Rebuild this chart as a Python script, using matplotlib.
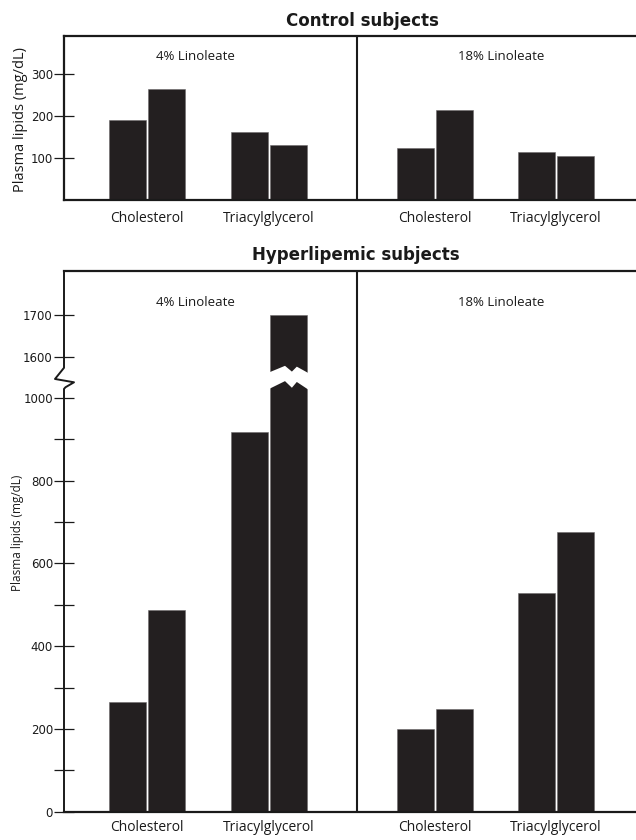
import matplotlib
matplotlib.use('Agg')
import matplotlib.pyplot as plt

# values (mg/dL), two bars per lipid
diets = ['4% Linoleate', '18% Linoleate']
lipids = ['Cholesterol', 'Triacylglycerol']

control_4 = [[190, 264], [161, 130]]
control_18 = [[124, 214], [115, 104]]
hyper_4 = [[266, 488], [917, 1700]]
hyper_18 = [[199, 248], [528, 676]]

control_ticks = [100, 200, 300]
hyper_ticks = [0, 200, 400, 600, 800, 1000, 1600, 1700]
hyper_minor = [100, 300, 500, 700, 900]

# broken axis: everything above the break is shifted down by 500
BREAK_AT = 1050
BREAK_SHIFT = 500


def fwd(v):
    return v if v <= BREAK_AT else v - BREAK_SHIFT


BAR = '#231f20'
INK = '#1a1a1a'
LABEL_FONT = ['Open Sans', 'DejaVu Sans']

W, H = 636, 840
fig = plt.figure(figsize=(W / 100, H / 100), dpi=100)

# layout in pixels: axes run past the right edge, like the cropped original
AX_LEFT, AX_RIGHT = 64, 650
PANEL_W = 293
group_centres = [[83, 204.5], [78, 199]]
bar_w = 37
bar_off = 19.5


def px_axes(top, bottom):
    return fig.add_axes([AX_LEFT / W, 1 - bottom / H,
                         (AX_RIGHT - AX_LEFT) / W, (bottom - top) / H])


def draw_panel(ax, panels, t):
    xt, xl = [], []
    for p, data in enumerate(panels):
        for g, pair in enumerate(data):
            c = p * PANEL_W + group_centres[p][g]
            for k, v in enumerate(pair):
                ax.bar(c + (k - 0.5) * 2 * bar_off, t(v), width=bar_w,
                       color=BAR, edgecolor='#6d6a6b', linewidth=0.4, zorder=2)
            xt.append(c)
            xl.append(lipids[g])
    ax.set_xlim(0, AX_RIGHT - AX_LEFT)
    ax.axvline(PANEL_W, color=INK, lw=1.5, zorder=3)
    ax.set_xticks(xt, xl)
    for s in ['top', 'bottom', 'left']:
        ax.spines[s].set_linewidth(1.6)
        ax.spines[s].set_color(INK)
    ax.tick_params(axis='x', length=0)
    ax.tick_params(axis='y', which='both', direction='inout', length=14,
                   width=0.9, labelsize=8.5, pad=1, colors=INK)
    for lab in ax.get_xticklabels():
        lab.set_family(LABEL_FONT)
        lab.set_fontsize(10)
        lab.set_color(INK)


# ---- Control subjects ----
ax1 = px_axes(36, 200)
draw_panel(ax1, [control_4, control_18], lambda v: v)
ax1.set_ylim(0, 390)
ax1.set_yticks(control_ticks)
ax1.tick_params(axis='x', pad=8)
for x, d in zip([131, 437], diets):
    ax1.text(x, 0.878, d, transform=ax1.get_xaxis_transform(), ha='center',
             va='center', fontsize=9.5, family=LABEL_FONT, color=INK)

# ---- Hyperlipemic subjects ----
ax2 = px_axes(271, 811.7)
draw_panel(ax2, [hyper_4, hyper_18], fwd)
ax2.set_ylim(0, 1307)
ax2.set_yticks([fwd(v) for v in hyper_ticks], [str(v) for v in hyper_ticks])
ax2.set_yticks(hyper_minor, minor=True)
ax2.tick_params(axis='x', pad=6)
for x, d in zip([131, 437], diets):
    ax2.text(x, 0.941, d, transform=ax2.get_xaxis_transform(), ha='center',
             va='center', fontsize=9.5, family=LABEL_FONT, color=INK)

# zigzag gap through the tall bar (peaks pointing up)
c = group_centres[0][1] + bar_off
bx = [c - bar_w / 2 - 1, c - 3.5, c + 3.4, c + 8.3, c + bar_w / 2 + 1]
upper = [1063, 1079, 1065, 1077, 1062]
lower = [1023, 1042, 1026, 1040, 1022]
ax2.fill_between(bx, lower, upper, color='white', zorder=4, lw=0)

# left spine with a zigzag break
ax2.spines['left'].set_visible(False)
ax_w = AX_RIGHT - AX_LEFT
tr = ax2.get_yaxis_transform()
sx = [0, 0, -9, 10, 1.5, 0, 0]
sy = [1307, 1073, 1046, 1038, 1026, 1022, 0]
ax2.plot([v / ax_w for v in sx], sy, transform=tr, color=INK, lw=1.4,
         clip_on=False, zorder=5)

# titles and axis labels
fig.text(362 / W, 1 - 21 / H, 'Control subjects', ha='center', va='center',
         fontsize=12, fontweight='bold', family='DejaVu Sans', color=INK)
fig.text(356 / W, 1 - 255 / H, 'Hyperlipemic subjects', ha='center', va='center',
         fontsize=12, fontweight='bold', family='DejaVu Sans', color=INK)
fig.text(21 / W, 1 - 119 / H, 'Plasma lipids (mg/dL)', rotation=90, ha='center',
         va='center', fontsize=10.5, family=LABEL_FONT, color=INK)
fig.text(18 / W, 1 - 533 / H, 'Plasma lipids (mg/dL)', rotation=90, ha='center',
         va='center', fontsize=8.5, family=LABEL_FONT, color=INK)

fig.savefig('out.png', dpi=100)
